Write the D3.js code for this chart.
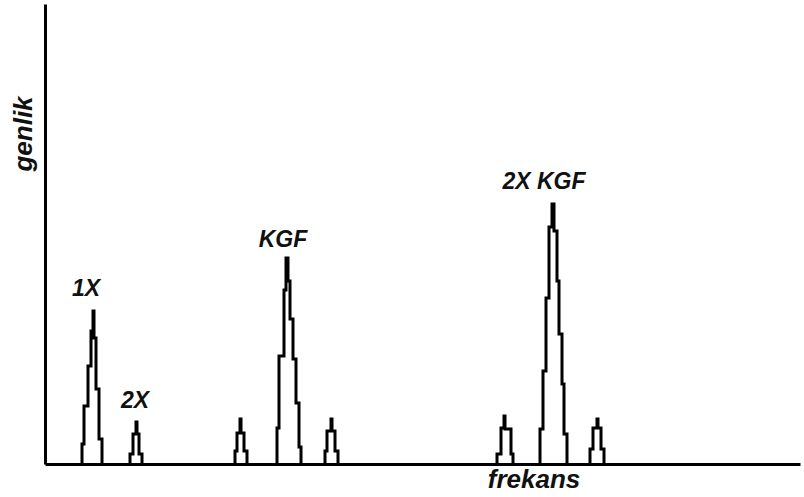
<!DOCTYPE html>
<html>
<head>
<meta charset="utf-8">
<script src="https://cdn.jsdelivr.net/npm/d3@7"></script>
<style>
  html, body { margin: 0; padding: 0; background: #fff; }
  svg { display: block; }
  text { font-family: "Liberation Sans", Arial, Helvetica, sans-serif; font-weight: bold; font-style: italic; fill: #111; }
</style>
</head>
<body>
<svg id="chart" width="804" height="497"></svg>
<script>
// Step-shaped spectrum peaks: [frequency, amplitude] (arbitrary units)
const peak1X    = [[37,20],[39,58],[43,98],[46,133],[48,153],[49,126],[51,75],[54,25],[57,0]];
const peak2X    = [[85,10],[88,30],[91,42],[92,30],[94,10],[97,0]];
const sideKGF_L = [[190,13],[192,31],[195,45],[196,31],[199,13],[202,0]];
const peakKGF   = [[232,36],[234,108],[239,174],[241,206],[243,183],[245,145],[248,105],[251,61],[254,17],[256,0]];
const sideKGF_R = [[280,13],[282,33],[286,45],[287,33],[290,13],[293,0]];
const side2K_L  = [[452,10],[456,36],[459,48],[460,35],[466,10],[468,0]];
const peak2XKGF = [[495,35],[498,93],[501,166],[504,237],[507,260],[509,233],[512,183],[514,130],[517,80],[519,30],[522,0]];
const side2K_R  = [[545,15],[548,36],[552,45],[553,36],[556,15],[559,0]];

const peaks = [peak1X, peak2X, sideKGF_L, peakKGF, sideKGF_R, side2K_L, peak2XKGF, side2K_R];

const peakLabels = ["1X", "2X", "KGF", "2X KGF"];
const labelFreq  = [41, 90, 238, 499];
const labelAmp   = [168, 56, 217, 275];

const xTitle = "frekans";
const yTitle = "genlik";

const svg = d3.select("#chart");
const x = d3.scaleLinear().domain([0, 755]).range([45, 800]);
const y = d3.scaleLinear().domain([0, 460]).range([464, 4]);

const line = d3.line()
  .x(d => x(d[0]))
  .y(d => y(d[1]))
  .curve(d3.curveStepAfter);

svg.selectAll("path.peak")
  .data(peaks)
  .join("path")
  .attr("class", "peak")
  .attr("d", d => line([[d[0][0], 0]].concat(d)))
  .attr("fill", "none")
  .attr("stroke", "#000")
  .attr("stroke-width", 3)
  .attr("stroke-linejoin", "miter");

// axes
const xAxis = d3.axisBottom(x).tickValues([]).tickSizeOuter(0);
const yAxis = d3.axisLeft(y).tickValues([]).tickSizeOuter(0);
const gx = svg.append("g").attr("transform", `translate(0,${y(0)})`).call(xAxis);
const gy = svg.append("g").attr("transform", `translate(${x(0)},0)`).call(yAxis);
gx.select(".domain").attr("stroke", "#000").attr("stroke-width", 3);
gy.select(".domain").attr("stroke", "#000").attr("stroke-width", 3);

svg.selectAll("text.plabel")
  .data(peakLabels)
  .join("text")
  .attr("class", "plabel")
  .attr("x", (d, i) => x(labelFreq[i]))
  .attr("y", (d, i) => y(labelAmp[i]))
  .attr("text-anchor", "middle")
  .style("font-size", "23px")
  .text(d => d);

svg.append("text")
  .attr("x", 534)
  .attr("y", 488)
  .attr("text-anchor", "middle")
  .style("font-size", "26px")
  .text(xTitle);

svg.append("text")
  .attr("transform", "translate(32,134) rotate(-90)")
  .attr("text-anchor", "middle")
  .style("font-size", "26px")
  .text(yTitle);
</script>
</body>
</html>
